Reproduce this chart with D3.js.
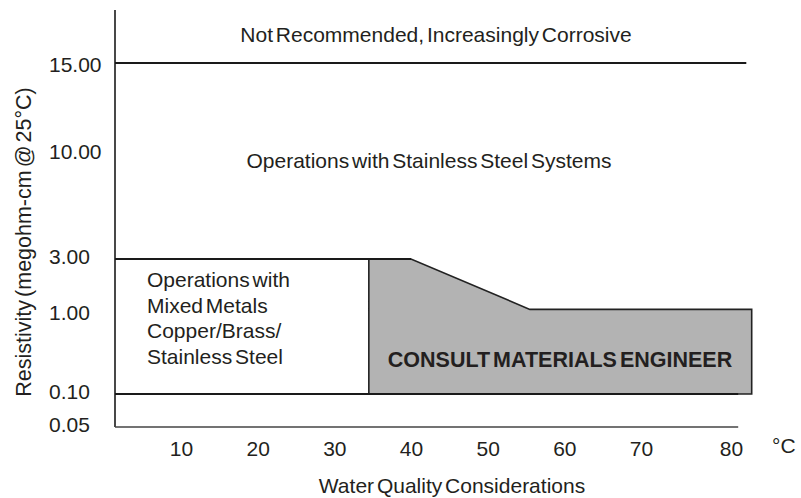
<!DOCTYPE html>
<html>
<head>
<meta charset="utf-8">
<script src="https://cdn.jsdelivr.net/npm/d3@7"></script>
<style>
  body { margin: 0; background: #fff; }
  svg text { font-family: "Liberation Sans", Arial, sans-serif; fill: #231f20; word-spacing: -3px; }
</style>
</head>
<body>
<div id="chart"></div>
<script>
// tick values
const xTicks = [10, 20, 30, 40, 50, 60, 70, 80];
const yTicks = [0.05, 0.10, 1.00, 3.00, 10.00, 15.00];

// boundary lines (resistivity value, where the line stops in degC)
const limitValues = [15.00, 3.00, 0.10];
const limitEnds = [81.7, 40, 80.8];

// shaded "consult" zone outline
const consultTemp = [34.5, 40, 55.5, 82.3, 82.3, 34.5];
const consultRes = [3.00, 3.00, 1.2, 1.2, 0.10, 0.10];

const mixedLines = ["Operations with", "Mixed Metals", "Copper/Brass/", "Stainless Steel"];

const width = 801, height = 498;
const plotLeft = 115, plotTop = 10, plotBottom = 427;
const fs = "21px";

const svg = d3.select("#chart").append("svg")
  .attr("width", width)
  .attr("height", height);

// hand drawn chart, tick spacing is not uniform
const x = d3.scaleLinear().domain([10, 70, 80]).range([181, 641, 731]);
const y = d3.scaleLinear().domain(yTicks).range([427, 394, 315, 259, 154, 63]);

// shaded zone
const pts = consultTemp.map((t, i) => [x(t), y(consultRes[i])]);
svg.append("path")
  .attr("d", d3.line()(pts) + "Z")
  .attr("fill", "#b3b3b3")
  .attr("stroke", "#222")
  .attr("stroke-width", 1.6);

// horizontal limits
svg.selectAll(".limit")
  .data(limitValues)
  .enter()
  .append("line")
  .attr("class", "limit")
  .attr("x1", plotLeft)
  .attr("x2", (d, i) => x(limitEnds[i]))
  .attr("y1", d => y(d))
  .attr("y2", d => y(d))
  .attr("stroke", "#1a1a1a")
  .attr("stroke-width", 2);

// y axis (labels only, left aligned)
const yAxis = svg.append("g")
  .attr("transform", "translate(" + plotLeft + ",0)")
  .call(d3.axisLeft(y).tickValues(yTicks).tickSize(0).tickFormat(d3.format(".2f")));
yAxis.select(".domain").remove();
yAxis.selectAll("text")
  .attr("x", 49 - plotLeft)
  .attr("dy", (d) => d == 15 ? "0.42em" : "0.2em")
  .attr("text-anchor", "start")
  .style("font-size", fs);

// x axis (labels only)
const xAxis = svg.append("g")
  .attr("transform", "translate(0," + plotBottom + ")")
  .call(d3.axisBottom(x).tickValues(xTicks).tickSize(0).tickFormat(d3.format("d")));
xAxis.select(".domain").remove();
xAxis.selectAll("text")
  .attr("y", 14)
  .style("font-size", fs);

// frame lines
svg.append("line")
  .attr("x1", plotLeft).attr("x2", plotLeft)
  .attr("y1", plotTop).attr("y2", plotBottom)
  .attr("stroke", "#1a1a1a").attr("stroke-width", 1.6);
svg.append("line")
  .attr("x1", plotLeft).attr("x2", x(80.8))
  .attr("y1", plotBottom).attr("y2", plotBottom)
  .attr("stroke", "#444").attr("stroke-width", 1.6);

svg.append("text")
  .attr("x", 772)
  .attr("y", 453)
  .style("font-size", fs)
  .text("°C");

// zone labels
svg.append("text")
  .attr("x", 436)
  .attr("y", 42)
  .attr("text-anchor", "middle")
  .style("font-size", fs)
  .text("Not Recommended, Increasingly Corrosive");

svg.append("text")
  .attr("x", 429)
  .attr("y", 168)
  .attr("text-anchor", "middle")
  .style("font-size", fs)
  .text("Operations with Stainless Steel Systems");

svg.selectAll(".mixed")
  .data(mixedLines)
  .enter()
  .append("text")
  .attr("class", "mixed")
  .attr("x", 147)
  .attr("y", (d, i) => 287 + i * 25.7)
  .style("font-size", fs)
  .text(d => d);

svg.append("text")
  .attr("x", 560)
  .attr("y", 367)
  .attr("text-anchor", "middle")
  .style("font-size", "21.5px")
  .style("font-weight", "bold")
  .text("CONSULT MATERIALS ENGINEER");

// axis titles
svg.append("text")
  .attr("x", 452)
  .attr("y", 493)
  .attr("text-anchor", "middle")
  .style("font-size", fs)
  .text("Water Quality Considerations");

svg.append("text")
  .attr("transform", "translate(31,242) rotate(-90)")
  .attr("text-anchor", "middle")
  .style("font-size", "21.5px")
  .text("Resistivity (megohm-cm @ 25°C)");
</script>
</body>
</html>
